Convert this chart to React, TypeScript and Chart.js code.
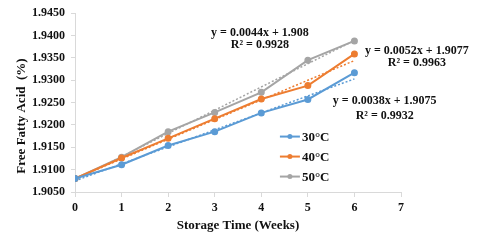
import React, { useEffect, useRef } from "react";
import { Chart, registerables } from "chart.js";

Chart.register(...registerables);

const weeks = [0, 1, 2, 3, 4, 5, 6];
const ffa30 = [1.908, 1.9111, 1.9154, 1.9185, 1.9227, 1.9257, 1.9317];
const ffa40 = [1.908, 1.9126, 1.917, 1.9214, 1.9258, 1.9288, 1.9359];
const ffa50 = [1.908, 1.9128, 1.9185, 1.9228, 1.9273, 1.9345, 1.9388];
const trendX = [0, 6];
const trend30 = [1.9075, 1.9303];
const trend40 = [1.908, 1.9344];
const trend50 = [1.9077, 1.9389];
const seriesLabels = ["30°C", "40°C", "50°C"];
const colors = ["#5B9BD5", "#ED7D31", "#A5A5A5"];
const equations = [
  { lines: ["y = 0.0044x + 1.908", "R² = 0.9928"], x: 3.97, y: [1.9406, 1.9379], align: "center" },
  { lines: ["y = 0.0052x + 1.9077", "R² = 0.9963"], x: 7.34, y: [1.9366, 1.9339], align: "center" },
  { lines: ["y = 0.0038x + 1.9075", "R² = 0.9932"], x: 6.65, y: [1.9254, 1.9221], align: "center" },
];

const FONT = "'Liberation Serif', 'Times New Roman', serif";

export default function App() {
  const ref = useRef<HTMLCanvasElement>(null);
  useEffect(() => {
    if (!ref.current) return;
    const toPts = (xs: number[], ys: number[]) => xs.map((x, i) => ({ x, y: ys[i] }));
    const series = [ffa30, ffa40, ffa50];
    const trends = [trend30, trend40, trend50];
    const datasets: any[] = [];
    series.forEach((s, i) => {
      datasets.push({
        label: seriesLabels[i],
        data: toPts(weeks, s),
        borderColor: colors[i],
        backgroundColor: colors[i],
        borderWidth: 2,
        pointRadius: 2.5,
        pointStyle: "circle",
        order: 1,
      });
    });
    trends.forEach((t, i) => {
      datasets.push({
        label: "trend" + i,
        data: toPts(trendX, t),
        borderColor: colors[i],
        borderWidth: 1.5,
        borderDash: [2, 2],
        pointRadius: 0,
        order: 2,
      });
    });

    const overlay = {
      id: "overlay",
      afterDraw(chart: any) {
        const ctx = chart.ctx;
        const xs = chart.scales.x;
        const ys = chart.scales.y;
        ctx.save();
        ctx.fillStyle = "#111";
        ctx.font = `bold 12px ${FONT}`;
        ctx.textBaseline = "middle";
        equations.forEach((e) => {
          ctx.textAlign = e.align;
          const px = xs.getPixelForValue(e.x);
          e.lines.forEach((l, j) => ctx.fillText(l, px, ys.getPixelForValue(e.y[j])));
        });
        // legend
        const lx = xs.getPixelForValue(4.4);
        const ly0 = ys.getPixelForValue(1.9174);
        ctx.font = `bold 13px ${FONT}`;
        ctx.textAlign = "left";
        seriesLabels.forEach((lab, i) => {
          const y = ly0 + i * 20;
          ctx.strokeStyle = colors[i];
          ctx.lineWidth = 2;
          ctx.beginPath();
          ctx.moveTo(lx, y);
          ctx.lineTo(lx + 20, y);
          ctx.stroke();
          ctx.fillStyle = colors[i];
          ctx.beginPath();
          ctx.arc(lx + 10, y, 2.5, 0, Math.PI * 2);
          ctx.fill();
          ctx.fillStyle = "#111";
          ctx.fillText(lab, lx + 22, y + 1);
        });
        // y title
        ctx.translate(22, 116);
        ctx.rotate(-Math.PI / 2);
        ctx.textAlign = "center";
        ctx.font = `bold 13px ${FONT}`;
        ctx.fillText("Free Fatty Acid  (%)", 0, 0);
        ctx.restore();
      },
    };

    const chart = new Chart(ref.current, {
      type: "line",
      data: { datasets },
      options: {
        animation: false,
        responsive: false,
        layout: { padding: { left: 0, right: 79, top: 12, bottom: 0 } },
        plugins: { legend: { display: false }, tooltip: { enabled: false } },
        scales: {
          x: {
            type: "linear",
            min: 0,
            max: 7,
            ticks: { stepSize: 1, color: "#111", font: { family: FONT, size: 12, weight: "bold" }, padding: 4 },
            grid: { drawOnChartArea: false, drawTicks: true, tickLength: 5, color: "#d9d9d9" },
            border: { color: "#d9d9d9" },
            title: { display: true, text: "Storage Time (Weeks)", color: "#111", font: { family: FONT, size: 13, weight: "bold" }, padding: { top: 4, bottom: 11 } },
            afterFit: (s: any) => { s.height = 52; },
          },
          y: {
            min: 1.905,
            max: 1.945,
            ticks: { stepSize: 0.005, color: "#111", font: { family: FONT, size: 12, weight: "bold" }, callback: (v: any) => Number(v).toFixed(4), padding: 6 },
            grid: { drawOnChartArea: false, drawTicks: true, tickLength: 4, color: "#d9d9d9" },
            border: { color: "#d9d9d9" },
            afterFit: (s: any) => { s.width = 75; },
          },
        },
      },
      plugins: [overlay],
    });
    return () => chart.destroy();
  }, []);
  return (
    <div style={{ position: "fixed", left: 0, top: 0, width: 480, height: 244, background: "#fff" }}>
      <canvas ref={ref} width={480} height={244} />
    </div>
  );
}
